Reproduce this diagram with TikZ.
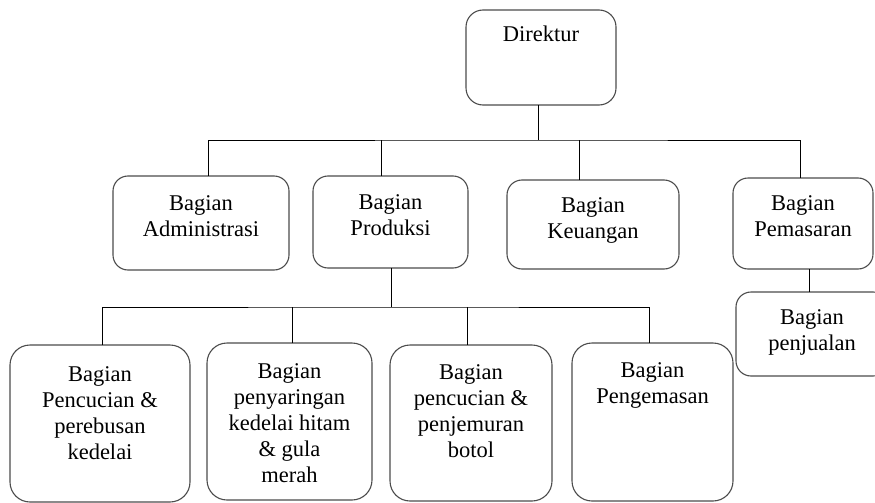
\documentclass[tikz,border=0pt]{standalone}
\usepackage{fontspec}
\setmainfont{Liberation Serif}
\tikzstyle{unit}=[draw=black!70,line width=1.1pt,rounded corners=15pt,inner sep=0pt,outer sep=0pt]
\tikzstyle{subunit}=[unit,rounded corners=20pt]
\tikzstyle{caption}=[anchor=north,align=center,inner sep=0pt,font=\fontsize{22.5}{26}\selectfont]
\tikzstyle{link}=[draw=black,line width=1pt]
\begin{document}
\begin{tikzpicture}[x=1pt,y=-1pt]
\useasboundingbox (0,0) rectangle (875,503);
\clip (0,0) rectangle (875,503);
\node[unit,rounded corners=17pt,minimum width=150pt,minimum height=95pt,label={[caption,yshift=-16pt]north:Direktur}] (dir) at (541,57.5) {};
\node[unit,minimum width=176pt,minimum height=94pt,label={[caption,yshift=-19pt]north:{Bagian\\Administrasi}}] (adm) at (201,223) {};
\node[unit,minimum width=155pt,minimum height=92pt,label={[caption,yshift=-18pt]north:{Bagian\\Produksi}}] (prod) at (390.5,222) {};
\node[unit,minimum width=172pt,minimum height=89pt,label={[caption,yshift=-17pt]north:{Bagian\\Keuangan}}] (keu) at (593,224.5) {};
\node[unit,minimum width=140pt,minimum height=91pt,label={[caption,yshift=-17pt]north:{Bagian\\Pemasaran}}] (pem) at (803,223.5) {};
\node[unit,minimum width=152pt,minimum height=84pt,label={[caption,yshift=-17pt]north:{Bagian\\penjualan}}] (jual) at (812,334) {};
\node[subunit,minimum width=180pt,minimum height=157pt,label={[caption,yshift=-21pt]north:{Bagian\\Pencucian \&\\perebusan\\kedelai}}] (cuci) at (100,423.5) {};
\node[subunit,minimum width=165pt,minimum height=157pt,label={[caption,yshift=-20pt]north:{Bagian\\penyaringan\\kedelai hitam\\\& gula\\merah}}] (saring) at (289.5,421.5) {};
\node[subunit,minimum width=162pt,minimum height=156pt,label={[caption,yshift=-19pt]north:{Bagian\\pencucian \&\\penjemuran\\botol}}] (botol) at (471,423) {};
\node[subunit,minimum width=161pt,minimum height=158pt,label={[caption,yshift=-19pt]north:{Bagian\\Pengemasan}}] (kemas) at (652.5,422) {};
\coordinate (hub) at (538,140);
\coordinate (split) at (391,307);
\coordinate (dir-out) at ([xshift=-3pt]dir.south);
\coordinate (adm-in) at ([xshift=7pt]adm.north);
\coordinate (prod-in) at ([xshift=-9.5pt]prod.north);
\coordinate (keu-in) at ([xshift=-14pt]keu.north);
\coordinate (pem-in) at ([xshift=-3pt]pem.north);
\coordinate (prod-out) at ([xshift=0.5pt]prod.south);
\coordinate (pem-out) at ([xshift=6.5pt]pem.south);
\coordinate (cuci-in) at ([xshift=2pt]cuci.north);
\coordinate (saring-in) at ([xshift=2.5pt]saring.north);
\coordinate (botol-in) at ([xshift=-4pt]botol.north);
\coordinate (kemas-in) at ([xshift=-3.5pt]kemas.north);
\draw[link] (dir-out) -- (hub);
\draw[link] (adm-in) |- (hub) -| (pem-in);
\draw[link] (prod-in) -- (prod-in |- hub);
\draw[link] (keu-in) -- (keu-in |- hub);
\draw[link] (prod-out) -- (split);
\draw[link] (cuci-in) |- (split) -| (kemas-in);
\draw[link] (saring-in) -- (saring-in |- split);
\draw[link] (botol-in) -- (botol-in |- split);
\draw[link] (pem-out) -- (pem-out |- jual.north);
\end{tikzpicture}
\end{document}
